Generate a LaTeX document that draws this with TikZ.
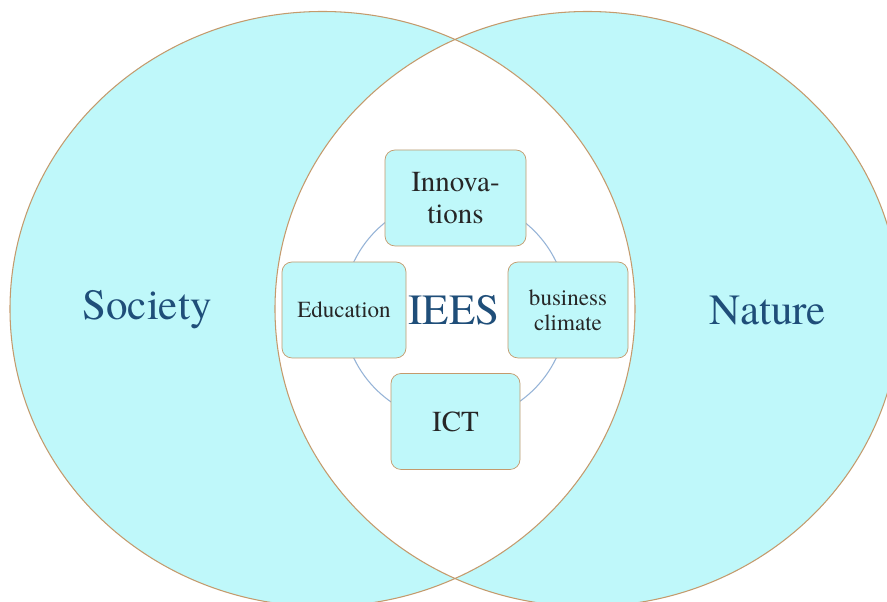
\documentclass[tikz,border=0pt]{standalone}
\usepackage{fontspec}
\setmainfont{texgyretermes}[Extension=.otf, UprightFont=*-regular,
    BoldFont=*-bold, ItalicFont=*-italic, BoldItalicFont=*-bolditalic]
\usepackage{tikz}
\usetikzlibrary{positioning}

\definecolor{ringfill}{HTML}{BFF8FA}
\definecolor{ringline}{HTML}{C49A6C}
\definecolor{titleblue}{HTML}{1F4E79}
\definecolor{loopline}{HTML}{95B3D7}

\tikzset{
    pillar/.style={draw=ringline, fill=ringfill, rounded corners=0.2cm,
        minimum height=1.92cm, align=center, inner sep=2pt, text=black!85},
    bigword/.style={text=titleblue, font=\fontsize{24.5}{26}\selectfont}
}

\begin{document}
\begin{tikzpicture}
    \useasboundingbox (0,0) rectangle (17.74,12.04);

    % Two ellipses
    \fill[ringfill] (6.45,5.86) ellipse [x radius=6.25, y radius=5.95];
    \fill[ringfill] (11.75,5.86) ellipse [x radius=6.25, y radius=5.95];
    \begin{scope}
        \clip (6.45,5.86) ellipse [x radius=6.25, y radius=5.95];
        \fill[white] (11.75,5.86) ellipse [x radius=6.25, y radius=5.95];
    \end{scope}
    \draw[ringline, line width=0.6pt] (6.45,5.86) ellipse [x radius=6.25, y radius=5.95];
    \draw[ringline, line width=0.6pt] (11.75,5.86) ellipse [x radius=6.25, y radius=5.95];

    % Inner loop
    \draw[loopline, line width=0.6pt] (9.1,5.84) circle (2.24);

    % Define nodes
    \node[bigword] (society) at (2.94,5.84) {Society};
    \node[bigword] (nature) at (15.36,5.84) {Nature};
    \node[bigword] (iees) at (9.08,5.84) {IEES};

    \node[pillar, minimum width=2.82cm, font=\fontsize{16.5}{18}\selectfont]
        (innov) at (9.11,8.08) {Innova-\\tions};
    \node[pillar, minimum width=2.48cm, font=\fontsize{13.1}{14}\selectfont]
        (edu) at (6.88,5.84) {Education};
    \node[pillar, minimum width=2.4cm, font=\fontsize{13.1}{14}\selectfont]
        (biz) at (11.36,5.84) {business\\climate};
    \node[pillar, minimum width=2.58cm, font=\fontsize{16.5}{18}\selectfont]
        (ict) at (9.11,3.61) {ICT};
\end{tikzpicture}
\end{document}
